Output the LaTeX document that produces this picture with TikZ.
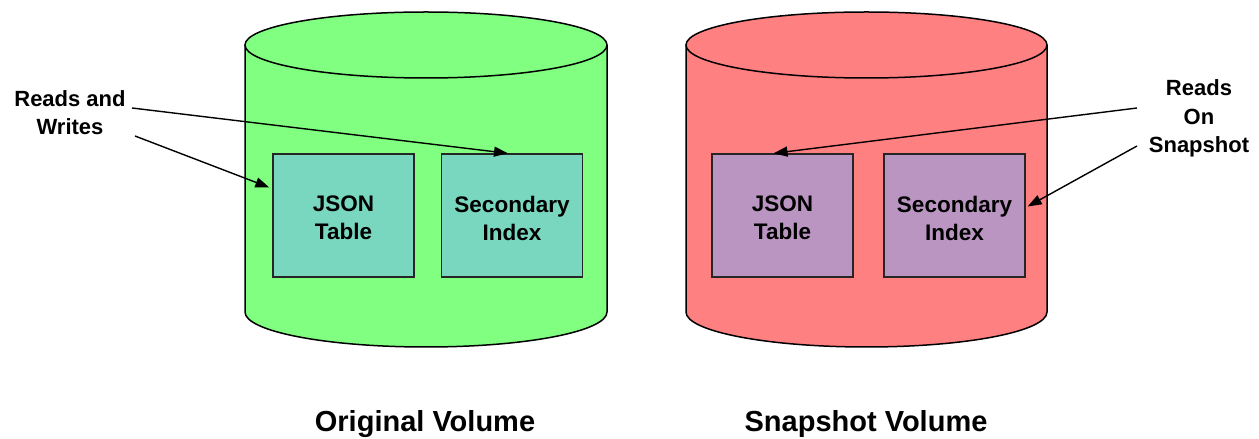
\documentclass[tikz,border=0pt]{standalone}
\usepackage{fontspec}
\setmainfont{Liberation Sans}
\usetikzlibrary{arrows.meta,calc}
\definecolor{cylgreen}{HTML}{80FF80}
\definecolor{boxteal}{HTML}{79D6BF}
\definecolor{cylred}{HTML}{FF8080}
\definecolor{boxpurple}{HTML}{BB95C2}
\tikzset{
  tbox/.style={draw=black!85, line width=1.3pt, minimum width=141pt, minimum height=123pt,
    inner sep=0pt},
  boxtxt/.style={align=center, inner sep=0pt, yshift=-2.5pt, font=\bfseries\fontsize{22.5}{28}\selectfont},
  lbl/.style={align=center, inner sep=0pt, font=\bfseries\fontsize{22}{28.5}\selectfont},
  ttl/.style={inner sep=0pt, font=\bfseries\fontsize{29}{34}\selectfont},
  arr/.style={line width=1.4pt, -{Triangle[length=14pt,width=10pt]}},
  cyl/.style={line width=1.5pt}
}
\begin{document}
\begin{tikzpicture}[x=1pt,y=1pt]
\useasboundingbox (0,0) rectangle (1259,439);
% green cylinder
\fill[cylgreen] (245,394) -- (245,127) arc[start angle=180,end angle=360,x radius=181,y radius=35] -- (607,394) -- cycle;
\draw[cyl] (245,394) -- (245,127) arc[start angle=180,end angle=360,x radius=181,y radius=35] -- (607,394);
\filldraw[cyl, fill=cylgreen] (426,394) ellipse [x radius=181, y radius=33];
% red cylinder
\fill[cylred] (686,394) -- (686,127) arc[start angle=180,end angle=360,x radius=180.5,y radius=35] -- (1047,394) -- cycle;
\draw[cyl] (686,394) -- (686,127) arc[start angle=180,end angle=360,x radius=180.5,y radius=35] -- (1047,394);
\filldraw[cyl, fill=cylred] (866.5,394) ellipse [x radius=180.5, y radius=33];
% boxes
\node[tbox, fill=boxteal, label={[boxtxt]center:{JSON\\Table}}] (json1) at (343.5,223.5) {};
\node[tbox, fill=boxteal, label={[boxtxt]center:{Secondary\\Index}}] (sec1) at (512,223.5) {};
\node[tbox, fill=boxpurple, label={[boxtxt]center:{JSON\\Table}}] (json2) at (782.5,223.5) {};
\node[tbox, fill=boxpurple, label={[boxtxt]center:{Secondary\\Index}}] (sec2) at (954.5,223.5) {};
% labels
\node[lbl] (rw) at (70,326.5) {Reads and\\Writes};
\node[lbl] (ros) at (1199,320.5) {Reads\\On\\Snapshot};
\node[ttl] (t1) at (425,15) {Original Volume};
\node[ttl] (t2) at (866,15) {Snapshot Volume};
% arrow start points
\coordinate (a1) at (132,331);
\coordinate (a2) at (135,303);
\coordinate (a3) at (1137,331);
\coordinate (a4) at (1137,293);
\draw[arr] (a1) -- ([xshift=-4pt]sec1.north);
\draw[arr] (a2) -- ([xshift=-3pt,yshift=28pt]json1.west);
\draw[arr] (a3) -- ([xshift=-9pt]json2.north);
\draw[arr] (a4) -- ([xshift=2pt,yshift=9pt]sec2.east);
\end{tikzpicture}
\end{document}
